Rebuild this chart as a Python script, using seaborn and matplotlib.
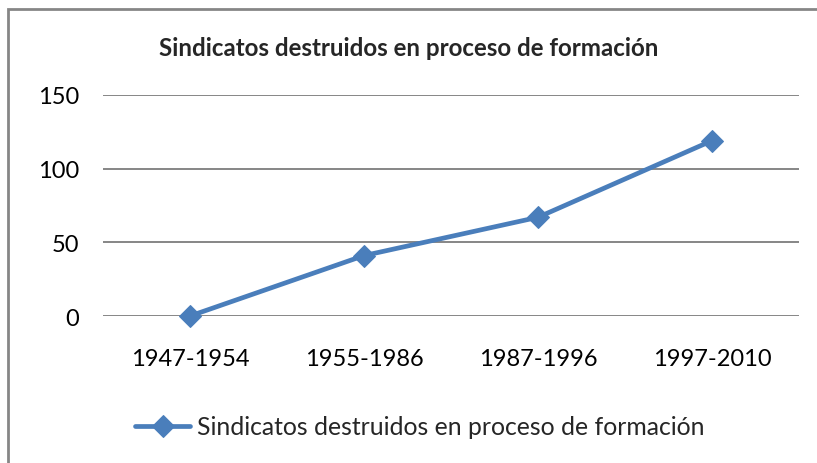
import matplotlib
matplotlib.use("Agg")
import matplotlib.pyplot as plt
import seaborn as sns
import pandas as pd
from matplotlib.patches import Rectangle

# Data
periods = ['1947-1954', '1955-1986', '1987-1996', '1997-2010']
values = [0, 41, 67, 119]
series_name = 'Sindicatos destruidos en proceso de formación'
y_ticks = [0, 50, 100, 150]

df = pd.DataFrame({'periodo': periods, 'valor': values})

sns.set_style("white")
plt.rcParams['font.family'] = ['Lato', 'DejaVu Sans']

fig = plt.figure(figsize=(8.17, 4.64), dpi=100)
ax = fig.add_axes([103 / 817, 1 - 317 / 464, 696 / 817, 221 / 464])

blue = '#4A7EBB'
sns.lineplot(data=df, x='periodo', y='valor', ax=ax, color=blue, linewidth=3.4,
             marker='D', markersize=11, markeredgecolor=blue, markerfacecolor=blue,
             label=series_name, sort=False, clip_on=False)

ax.set_xlim(-0.5, 3.5)
ax.set_ylim(0, 150)
ax.set_yticks(y_ticks)
ax.set_xlabel('')
ax.set_ylabel('')
for s in ax.spines.values():
    s.set_visible(False)
ax.grid(axis='y', color='#868686', linewidth=1.4)
ax.grid(axis='x', visible=False)
ax.set_axisbelow(True)
ax.tick_params(axis='both', length=0, labelsize=17, colors='black')
ax.tick_params(axis='y', pad=17)
ax.tick_params(axis='x', pad=23)

fig.text(0.5, 1 - 48 / 464, series_name, ha='center', va='center',
         fontsize=17.4, fontweight='bold')

leg = ax.legend(loc='center', bbox_to_anchor=(420 / 817, 1 - 428 / 464),
                bbox_transform=fig.transFigure, frameon=False, fontsize=17.8,
                handlelength=2.2, handletextpad=0.3)

# outer chart border
fig.patches.append(Rectangle((8 / 817, -0.5), 2.0, 1.5 - 10 / 464,
                             transform=fig.transFigure, fill=False,
                             edgecolor='#868686', linewidth=2))

fig.savefig('out.png', dpi=100)
